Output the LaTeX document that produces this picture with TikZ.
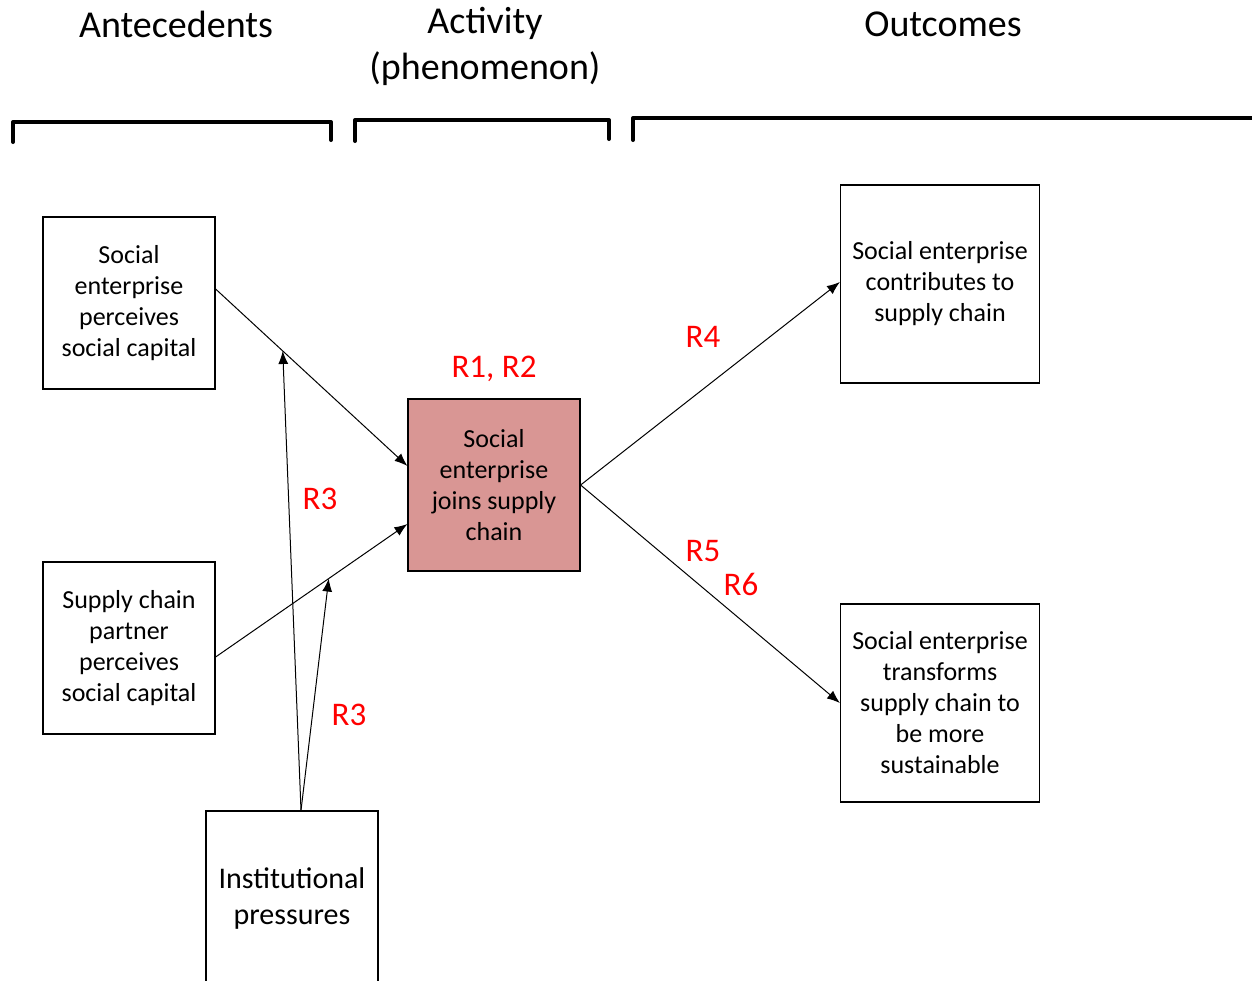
\documentclass[tikz,border=0pt]{standalone}
\usepackage{fontspec}
\setmainfont{Carlito}
\usetikzlibrary{arrows.meta,positioning}

\definecolor{phenfill}{RGB}{217,150,148}
\definecolor{rlabel}{RGB}{255,0,0}

\tikzset{
  box/.style={draw, line width=1.2pt, minimum width=172pt, minimum height=172pt,
    inner sep=2pt, align=center, font=\fontsize{26}{31}\selectfont},
  bigbox/.style={box, minimum width=199pt, minimum height=198pt},
  link/.style={line width=1pt, -{Latex[length=13pt,width=10pt]}},
  rtag/.style={text=rlabel, font=\fontsize{33}{38}\selectfont},
  head/.style={align=center, font=\fontsize{38}{46}\selectfont},
  bracket/.style={line width=4pt, line cap=round, line join=round}
}

\begin{document}
\begin{tikzpicture}[x=1pt,y=-1pt]

   \useasboundingbox (0,0) rectangle (1252,980);

   % headings and brackets
   \node[head] (hante) at (176,24) {Antecedents};
   \node[head] (hact) at (485,46) {Activity\\(phenomenon)};
   \node[head] (hout) at (943,24) {Outcomes};

   \draw[bracket] (13,142) -- (13,122) -- (331,122) -- (331,140);
   \draw[bracket] (355,141) -- (355,120) -- (609,120) -- (609,139);
   \draw[bracket] (633,140) -- (633,118) -- (1262,118);

   % boxes
   \node[box] (ante1) at (129,303) {Social\\enterprise\\perceives\\social capital};
   \node[box] (ante2) at (129,648) {Supply chain\\partner\\perceives\\social capital};
   \node[box, minimum height=174pt, font=\fontsize{30}{36}\selectfont] (inst) at (292,898) {Institutional\\pressures};
   \node[box, fill=phenfill] (phen) at (494,485) {Social\\enterprise\\joins supply\\chain};
   \node[bigbox] (out1) at (940,284) {Social enterprise\\contributes to\\supply chain};
   \node[bigbox] (out2) at (940,703) {Social enterprise\\transforms\\supply chain to\\be more\\sustainable};

   % arrows
   \draw[link] ([yshift=14pt]ante1.east) -- coordinate[pos=0.35] (mid1) ([yshift=19pt]phen.west);
   \draw[link] ([yshift=-9pt]ante2.east) -- coordinate[pos=0.59] (mid2) ([yshift=-39pt]phen.west);
   \draw[link] ([xshift=9pt]inst.north) -- (mid1);
   \draw[link] ([xshift=9pt]inst.north) -- (mid2);
   \draw[link] (phen.east) -- ([yshift=2pt]out1.west);
   \draw[link] (phen.east) -- (out2.west);

   % relation labels
   \node[rtag] (r12) at (494,369) {R1, R2};
   \node[rtag] (r3a) at (320,499) {R3};
   \node[rtag] (r3b) at (349,715) {R3};
   \node[rtag] (r4) at (703,337) {R4};
   \node[rtag] (r5) at (703,551) {R5};
   \node[rtag] (r6) at (741,584) {R6};

\end{tikzpicture}
\end{document}
